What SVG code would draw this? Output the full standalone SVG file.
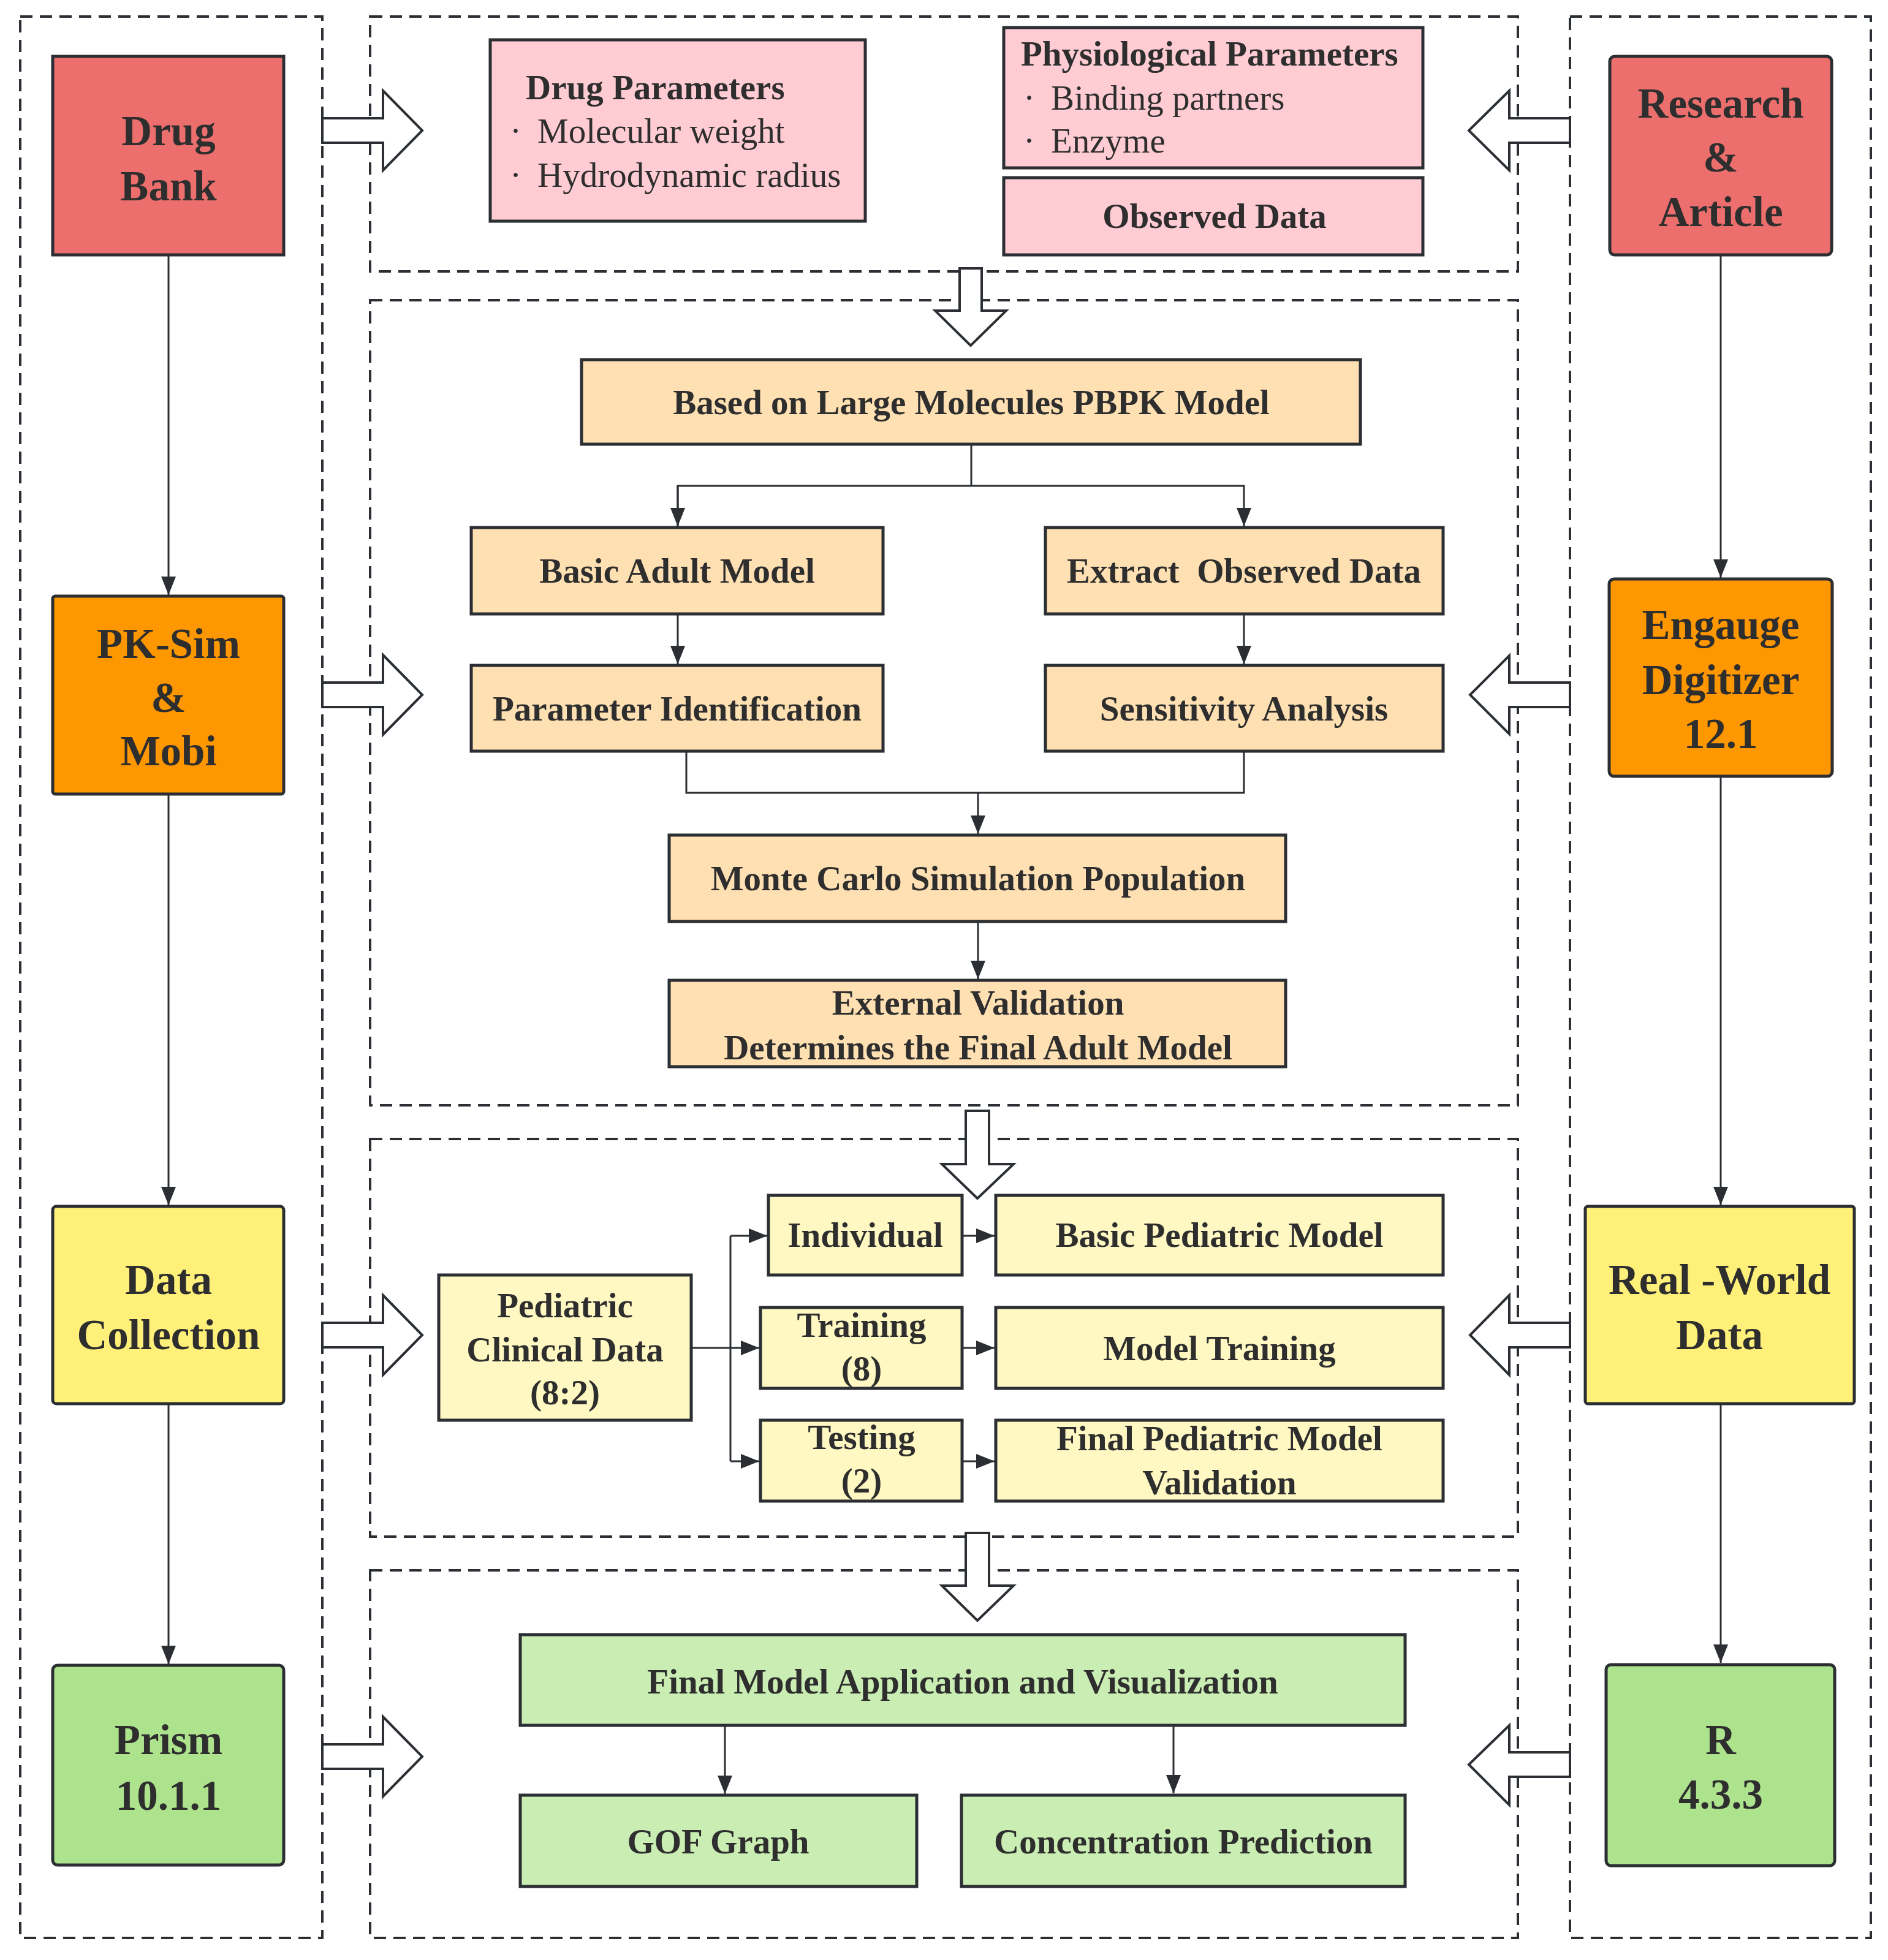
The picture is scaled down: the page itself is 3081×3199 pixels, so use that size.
<svg xmlns="http://www.w3.org/2000/svg" width="3081" height="3199" viewBox="0 0 3081 3199">
<style>
text{font-family:"Liberation Serif","Times New Roman",serif;fill:#2E2E2E;text-anchor:middle}
.b{font-weight:bold}
.big{font-size:69px;font-weight:bold}
.mid{font-size:57px;font-weight:bold}
.reg{font-size:57px;font-weight:normal;text-anchor:start}
.st{text-anchor:start}
.dash{fill:none;stroke:#2B2F33;stroke-width:4;stroke-dasharray:20 12}
.node{stroke:#2B2F33;stroke-width:5}
.red{fill:#EC6F6E}
.org{fill:#FE9700}
.yel{fill:#FFF07A}
.grn{fill:#AEE38E}
.pink{fill:#FFCCD3}
.lor{fill:#FFE0B2}
.lye{fill:#FFF8C2}
.lgr{fill:#C9EDB2}
.blk{fill:#FFFFFF;stroke:#2B2F33;stroke-width:4;stroke-linejoin:miter}
.con{fill:none;stroke:#2B2F33;stroke-width:3}
</style>
<defs>
<marker id="ah" markerUnits="userSpaceOnUse" markerWidth="32" markerHeight="26" refX="30" refY="12" orient="auto">
<path d="M0,0 L30,12 L0,24 z" fill="#2B2F33"/>
</marker>
</defs>
<rect width="3081" height="3199" fill="#FFFFFF"/>

<g id="frames">
<rect class="dash" x="33" y="27" width="493" height="3136"/>
<rect class="dash" x="604" y="27" width="1873" height="416"/>
<rect class="dash" x="604" y="490" width="1873" height="1314"/>
<rect class="dash" x="604" y="1859" width="1873" height="649"/>
<rect class="dash" x="604" y="2563" width="1873" height="600"/>
<rect class="dash" x="2562" y="27" width="491" height="3136"/>
</g>

<g id="connectors">
<line class="con" x1="275" y1="416" x2="275" y2="971" marker-end="url(#ah)"/>
<line class="con" x1="275" y1="1296" x2="275" y2="1967" marker-end="url(#ah)"/>
<line class="con" x1="275" y1="2291" x2="275" y2="2716" marker-end="url(#ah)"/>
<line class="con" x1="2808" y1="416" x2="2808" y2="943" marker-end="url(#ah)"/>
<line class="con" x1="2808" y1="1267" x2="2808" y2="1967" marker-end="url(#ah)"/>
<line class="con" x1="2808" y1="2291" x2="2808" y2="2714" marker-end="url(#ah)"/>
<polyline class="con" points="1585,724 1585,793"/>
<polyline class="con" points="1106,859 1106,793 2030,793 2030,859" marker-end="url(#ah)"/>
<line class="con" x1="1106" y1="793" x2="1106" y2="859" marker-end="url(#ah)"/>
<line class="con" x1="1106" y1="1002" x2="1106" y2="1084" marker-end="url(#ah)"/>
<line class="con" x1="2030" y1="1002" x2="2030" y2="1084" marker-end="url(#ah)"/>
<polyline class="con" points="1120,1226 1120,1294 2030,1294 2030,1226"/>
<line class="con" x1="1596" y1="1294" x2="1596" y2="1361" marker-end="url(#ah)"/>
<line class="con" x1="1596" y1="1504" x2="1596" y2="1598" marker-end="url(#ah)"/>
<line class="con" x1="1128" y1="2200" x2="1192" y2="2200"/>
<line class="con" x1="1192" y1="2017" x2="1192" y2="2385"/>
<line class="con" x1="1192" y1="2017" x2="1252" y2="2017" marker-end="url(#ah)"/>
<line class="con" x1="1192" y1="2200" x2="1239" y2="2200" marker-end="url(#ah)"/>
<line class="con" x1="1192" y1="2385" x2="1239" y2="2385" marker-end="url(#ah)"/>
<line class="con" x1="1570" y1="2017" x2="1623" y2="2017" marker-end="url(#ah)"/>
<line class="con" x1="1570" y1="2200" x2="1623" y2="2200" marker-end="url(#ah)"/>
<line class="con" x1="1570" y1="2385" x2="1623" y2="2385" marker-end="url(#ah)"/>
<line class="con" x1="1183" y1="2816" x2="1183" y2="2928" marker-end="url(#ah)"/>
<line class="con" x1="1915" y1="2816" x2="1915" y2="2927" marker-end="url(#ah)"/>
</g>

<g id="block-arrows">
<polygon class="blk" points="526,193 625,193 625,148 689,213 625,278 625,233 526,233"/>
<polygon class="blk" points="526,1114 625,1114 625,1069 689,1134 625,1199 625,1154 526,1154"/>
<polygon class="blk" points="526,2159 625,2159 625,2114 689,2179 625,2244 625,2199 526,2199"/>
<polygon class="blk" points="526,2847 625,2847 625,2802 689,2867 625,2932 625,2887 526,2887"/>
<polygon class="blk" points="2562,193 2463,193 2463,148 2397,213 2463,278 2463,233 2562,233"/>
<polygon class="blk" points="2562,1114 2463,1114 2463,1070 2399,1134 2463,1198 2463,1154 2562,1154"/>
<polygon class="blk" points="2562,2159 2463,2159 2463,2114 2399,2179 2463,2244 2463,2199 2562,2199"/>
<polygon class="blk" points="2562,2860 2463,2860 2463,2816 2397,2880 2463,2946 2463,2900 2562,2900"/>
<polygon class="blk" points="1566,438 1602,438 1602,507 1642,507 1584,564 1526,507 1566,507"/>
<polygon class="blk" points="1576,1813 1614,1813 1614,1900 1654,1900 1595,1956 1537,1900 1576,1900"/>
<polygon class="blk" points="1576,2502 1614,2502 1614,2588 1654,2588 1595,2645 1537,2588 1576,2588"/>
</g>

<g id="drug-bank">
<rect class="node red" x="86" y="92" width="377" height="324"/>
<text class="big" x="275" y="237">Drug</text>
<text class="big" x="275" y="327">Bank</text>
</g>
<g id="pk-sim">
<rect class="node org" x="86" y="973" width="377" height="323" rx="4"/>
<text class="big" x="275" y="1074">PK-Sim</text>
<text class="big" x="275" y="1162">&amp;</text>
<text class="big" x="275" y="1249">Mobi</text>
</g>
<g id="data-collection">
<rect class="node yel" x="86" y="1969" width="377" height="322" rx="6"/>
<text class="big" x="275" y="2112">Data</text>
<text class="big" x="275" y="2202">Collection</text>
</g>
<g id="prism">
<rect class="node grn" x="86" y="2718" width="377" height="326" rx="8"/>
<text class="big" x="275" y="2863">Prism</text>
<text class="big" x="275" y="2954">10.1.1</text>
</g>

<g id="research-article">
<rect class="node red" x="2627" y="92" width="362" height="324" rx="8"/>
<text class="big" x="2808" y="192">Research</text>
<text class="big" x="2808" y="280">&amp;</text>
<text class="big" x="2808" y="369">Article</text>
</g>
<g id="engauge">
<rect class="node org" x="2626" y="945" width="364" height="322" rx="8"/>
<text class="big" x="2808" y="1043">Engauge</text>
<text class="big" x="2808" y="1133">Digitizer</text>
<text class="big" x="2808" y="1221">12.1</text>
</g>
<g id="real-world-data">
<rect class="node yel" x="2587" y="1969" width="439" height="322" rx="4"/>
<text class="big" x="2806" y="2112" xml:space="preserve">Real -World</text>
<text class="big" x="2806" y="2202">Data</text>
</g>
<g id="r-433">
<rect class="node grn" x="2621" y="2717" width="373" height="328" rx="8"/>
<text class="big" x="2808" y="2863">R</text>
<text class="big" x="2808" y="2952">4.3.3</text>
</g>

<g id="drug-parameters">
<rect class="node pink" x="800" y="65" width="612" height="296"/>
<text class="mid st" x="858" y="162">Drug Parameters</text>
<text class="reg" x="832" y="233">·</text>
<text class="reg" x="877" y="233">Molecular weight</text>
<text class="reg" x="832" y="305">·</text>
<text class="reg" x="877" y="305">Hydrodynamic radius</text>
</g>
<g id="physiological-parameters">
<rect class="node pink" x="1638" y="45" width="684" height="229"/>
<text class="mid st" x="1666" y="107">Physiological Parameters</text>
<text class="reg" x="1670" y="179">·</text>
<text class="reg" x="1715" y="179">Binding partners</text>
<text class="reg" x="1670" y="249">·</text>
<text class="reg" x="1715" y="249">Enzyme</text>
</g>
<g id="observed-data">
<rect class="node pink" x="1638" y="290" width="684" height="126"/>
<text class="mid" x="1982" y="372">Observed Data</text>
</g>

<g id="based-on-large-molecules">
<rect class="node lor" x="949" y="587" width="1271" height="138"/>
<text class="mid" x="1585" y="676">Based on Large Molecules PBPK Model</text>
</g>
<g id="basic-adult-model">
<rect class="node lor" x="769" y="861" width="672" height="141"/>
<text class="mid" x="1105" y="951">Basic Adult Model</text>
</g>
<g id="extract-observed-data">
<rect class="node lor" x="1706" y="861" width="649" height="141"/>
<text class="mid" x="2030" y="951" xml:space="preserve">Extract  Observed Data</text>
</g>
<g id="parameter-identification">
<rect class="node lor" x="769" y="1086" width="672" height="140"/>
<text class="mid" x="1105" y="1176">Parameter Identification</text>
</g>
<g id="sensitivity-analysis">
<rect class="node lor" x="1706" y="1086" width="649" height="140"/>
<text class="mid" x="2030" y="1176">Sensitivity Analysis</text>
</g>
<g id="monte-carlo">
<rect class="node lor" x="1092" y="1363" width="1006" height="141"/>
<text class="mid" x="1596" y="1453">Monte Carlo Simulation Population</text>
</g>
<g id="external-validation">
<rect class="node lor" x="1092" y="1600" width="1006" height="141"/>
<text class="mid" x="1596" y="1656">External Validation</text>
<text class="mid" x="1596" y="1729">Determines the Final Adult Model</text>
</g>

<g id="pediatric-clinical-data">
<rect class="node lye" x="716" y="2081" width="412" height="237"/>
<text class="mid" x="922" y="2150">Pediatric</text>
<text class="mid" x="922" y="2222">Clinical Data</text>
<text class="mid" x="922" y="2292">(8:2)</text>
</g>
<g id="individual">
<rect class="node lye" x="1254" y="1951" width="316" height="130"/>
<text class="mid" x="1412" y="2035">Individual</text>
</g>
<g id="training">
<rect class="node lye" x="1241" y="2134" width="329" height="132"/>
<text class="mid" x="1406" y="2182">Training</text>
<text class="mid" x="1406" y="2253">(8)</text>
</g>
<g id="testing">
<rect class="node lye" x="1241" y="2318" width="329" height="132"/>
<text class="mid" x="1406" y="2365">Testing</text>
<text class="mid" x="1406" y="2436">(2)</text>
</g>
<g id="basic-pediatric-model">
<rect class="node lye" x="1625" y="1951" width="730" height="130"/>
<text class="mid" x="1990" y="2035">Basic Pediatric Model</text>
</g>
<g id="model-training">
<rect class="node lye" x="1625" y="2134" width="730" height="132"/>
<text class="mid" x="1990" y="2220">Model Training</text>
</g>
<g id="final-pediatric-validation">
<rect class="node lye" x="1625" y="2318" width="730" height="132"/>
<text class="mid" x="1990" y="2367">Final Pediatric Model</text>
<text class="mid" x="1990" y="2439">Validation</text>
</g>

<g id="final-model-application">
<rect class="node lgr" x="849" y="2668" width="1444" height="148"/>
<text class="mid" x="1571" y="2764">Final Model Application and Visualization</text>
</g>
<g id="gof-graph">
<rect class="node lgr" x="849" y="2930" width="647" height="149"/>
<text class="mid" x="1172" y="3025">GOF Graph</text>
</g>
<g id="concentration-prediction">
<rect class="node lgr" x="1569" y="2930" width="724" height="149"/>
<text class="mid" x="1931" y="3025">Concentration Prediction</text>
</g>
</svg>
